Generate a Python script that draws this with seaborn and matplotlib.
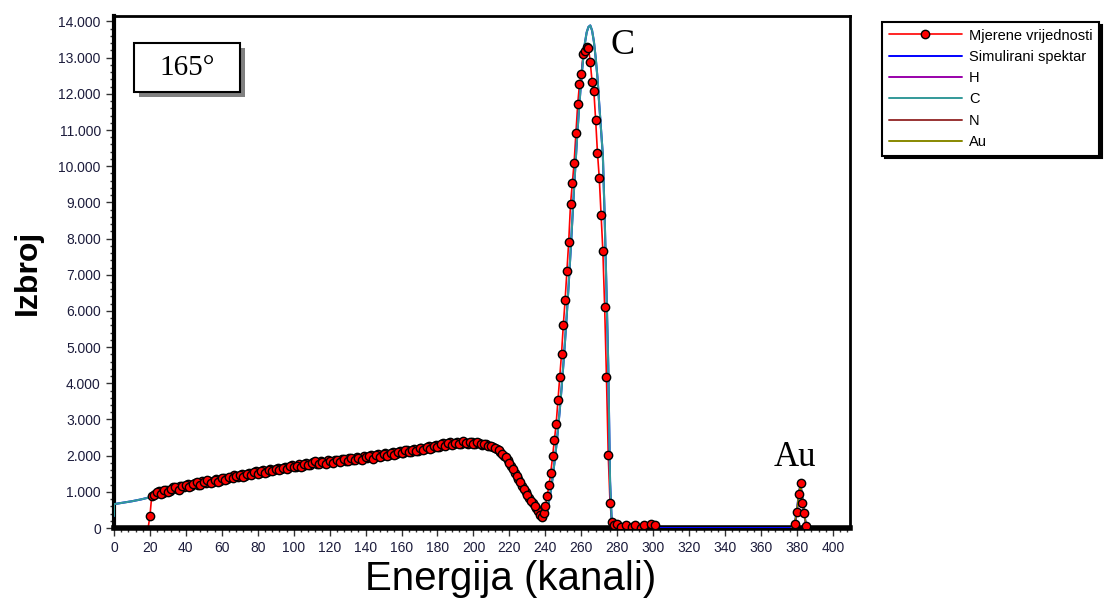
import numpy as np
import matplotlib
matplotlib.use('Agg')
import matplotlib.pyplot as plt
import seaborn as sns
from matplotlib.ticker import MultipleLocator, FuncFormatter
from matplotlib.lines import Line2D
from matplotlib.patches import Rectangle

sns.set_style('ticks')
plt.rcParams['font.family'] = ['Liberation Sans', 'DejaVu Sans']
plt.rcParams['text.color'] = 'black'
plt.rcParams['axes.labelcolor'] = 'black'

# measured spectrum (channel, counts)
meas_channels = [
    19, 20,
    21, 23, 25, 27, 29, 31, 33, 35, 37, 39,
    41, 43, 45, 47, 49, 51, 53, 55, 57, 59,
    61, 63, 65, 67, 69, 71, 73, 75, 77, 79,
    81, 83, 85, 87, 89, 91, 93, 95, 97, 99,
    101, 103, 105, 107, 109, 111, 113, 115, 117, 119,
    121, 123, 125, 127, 129, 131, 133, 135, 137, 139,
    141, 143, 145, 147, 149, 151, 153, 155, 157, 159,
    161, 163, 165, 167, 169, 171, 173, 175, 177, 179,
    181, 183, 185, 187, 189, 191, 193, 195, 197, 199,
    201, 203, 205, 207, 209, 211, 213, 215, 217, 219,
    221, 223, 225, 227, 229, 231, 233, 235,
    236, 237, 238, 239, 240, 241, 242, 243, 244, 245,
    246, 247, 248, 249, 250, 251, 252, 253, 254, 255,
    256, 257, 258, 259, 260, 261, 262, 263, 264, 265,
    266, 267, 268, 269, 270, 271, 272, 273, 274, 275,
    276, 277, 278,
    280, 282, 285, 288, 290, 293, 295, 299, 301, 303,
    377, 379, 380, 381, 382, 383, 384, 385, 386,
]
meas_counts = [
    0, 330,
    880, 950, 1020, 970, 1060, 1030, 1120, 1080, 1170, 1120,
    1210, 1170, 1250, 1200, 1290, 1240, 1310, 1280, 1350, 1300,
    1390, 1350, 1400, 1460, 1410, 1490, 1440, 1530, 1480, 1570,
    1520, 1600, 1550, 1630, 1590, 1660, 1620, 1700, 1650, 1730,
    1690, 1760, 1710, 1790, 1750, 1830, 1780, 1850, 1800, 1870,
    1820, 1890, 1840, 1910, 1860, 1930, 1880, 1960, 1910, 1990,
    1930, 2010, 1960, 2040, 1990, 2070, 2020, 2100, 2050, 2130,
    2080, 2150, 2110, 2190, 2140, 2220, 2180, 2260, 2210, 2300,
    2250, 2340, 2290, 2370, 2310, 2380, 2330, 2390, 2320, 2370,
    2310, 2350, 2290, 2310, 2260, 2240, 2190, 2100, 2000, 1880,
    1720, 1520, 1350, 1170, 990, 830, 690, 550,
    460, 370, 310, 420, 600, 880, 1180, 1520, 1980, 2420,
    2870, 3530, 4170, 4810, 5610, 6300, 7090, 7910, 8950, 9530,
    10090, 10920, 11710, 12270, 12540, 13090, 13180, 13300, 13260, 12880,
    12330, 12070, 11270, 10370, 9680, 8640, 7660, 6100, 4170, 2010,
    690, 170, 90,
    110, 30, 80, 20, 80, 10, 80, 100, 90, 0,
    0, 120, 450, 940, 1250, 700, 410, 60, 0,
]
# even channels of the continuum
meas_channels_even = [
    22, 24, 26, 28, 30, 32, 34, 36, 38, 40,
    42, 44, 46, 48, 50, 52, 54, 56, 58, 60,
    62, 64, 66, 68, 70, 72, 74, 76, 78, 80,
    82, 84, 86, 88, 90, 92, 94, 96, 98, 100,
    102, 104, 106, 108, 110, 112, 114, 116, 118, 120,
    122, 124, 126, 128, 130, 132, 134, 136, 138, 140,
    142, 144, 146, 148, 150, 152, 154, 156, 158, 160,
    162, 164, 166, 168, 170, 172, 174, 176, 178, 180,
    182, 184, 186, 188, 190, 192, 194, 196, 198, 200,
    202, 204, 206, 208, 210, 212, 214, 216, 218, 220,
    222, 224, 226, 228, 230, 232, 234,
]
meas_counts_even = [
    920, 990, 940, 1050, 1000, 1080, 1130, 1060, 1150, 1190,
    1140, 1230, 1260, 1180, 1270, 1320, 1250, 1330, 1280, 1370,
    1320, 1420, 1370, 1430, 1470, 1400, 1500, 1460, 1540, 1500,
    1580, 1530, 1610, 1570, 1640, 1600, 1670, 1630, 1710, 1680,
    1720, 1680, 1770, 1730, 1790, 1840, 1760, 1830, 1780, 1860,
    1800, 1870, 1820, 1900, 1850, 1940, 1870, 1930, 1890, 1960,
    1990, 1920, 2020, 1960, 2050, 2000, 2080, 2030, 2110, 2060,
    2160, 2100, 2170, 2120, 2200, 2170, 2240, 2190, 2270, 2230,
    2310, 2260, 2350, 2290, 2360, 2310, 2400, 2340, 2380, 2330,
    2370, 2320, 2330, 2280, 2270, 2220, 2160, 2050, 1950, 1800,
    1630, 1430, 1260, 1080, 910, 760, 620,
]

# carbon component of the simulation
c_channels = [
    0, 0, 5, 10, 15, 20, 25, 30, 40, 50, 60, 70, 80, 90, 100, 110,
    120, 130, 140, 150, 160, 170, 180, 190, 200, 205, 210, 213, 216,
    220, 224, 228, 232, 235, 237, 238, 239,
    240, 241, 242, 243, 244, 245, 246, 247, 248, 249,
    250, 251, 252, 253, 254, 255, 256, 257, 258, 259,
    260, 261, 262, 263, 264, 265, 266, 267, 268, 269,
    270, 271, 272, 273, 274, 275, 276, 277, 278, 280, 300,
]
c_counts = [
    330, 660, 700, 740, 790, 850, 950, 1030, 1160, 1260, 1350, 1440, 1520, 1600, 1670, 1740,
    1800, 1860, 1920, 1980, 2040, 2120, 2200, 2290, 2340, 2350, 2340, 2270, 2120,
    1820, 1460, 1090, 730, 470, 340, 300, 280,
    330, 480, 730, 1020, 1370, 1780, 2220, 2700, 3250, 3850,
    4500, 5200, 5950, 6750, 7600, 8500, 9400, 10250, 11050, 11750,
    12400, 12950, 13400, 13700, 13850, 13890, 13750, 13450, 13000, 12450,
    11700, 11000, 10300, 8600, 6600, 4500, 1300, 100, 20, 0, 0,
]

# gold component
au_channels = [377, 378, 379, 380, 381, 382, 383, 384, 385, 386]
au_counts = [0, 50, 200, 500, 950, 1200, 850, 420, 100, 0]

# H and N components (flat at zero in this spectrum)
h_channels = [0, 409]
h_counts = [0, 0]
n_channels = [0, 409]
n_counts = [0, 0]

# total simulated spectrum = C + Au (H, N are zero)
sim_channels = c_channels + au_channels
sim_counts = c_counts + au_counts

legend_labels = ['Mjerene vrijednosti', 'Simulirani spektar', 'H', 'C', 'N', 'Au']
col_meas = '#ff0000'
col_sim = '#0000ff'
col_h = '#9900aa'
col_c = '#339999'
col_n = '#993333'
col_au = '#888800'

all_x = np.array(meas_channels + meas_channels_even)
all_y = np.array(meas_counts + meas_counts_even)

fig = plt.figure(figsize=(11.13, 6.10), dpi=100)
ax = fig.add_axes([0.1024, 0.1344, 0.6613, 0.8393])

sns.lineplot(x=h_channels, y=h_counts, color=col_h, lw=1.2, estimator=None, sort=False, ax=ax)
sns.lineplot(x=n_channels, y=n_counts, color=col_n, lw=1.2, estimator=None, sort=False, ax=ax)
sns.lineplot(x=all_x, y=all_y, color=col_meas, lw=1.2, estimator=None, sort=True, ax=ax)
sns.lineplot(x=sim_channels, y=sim_counts, color=col_sim, lw=1.5, estimator=None, sort=False,
             zorder=3, ax=ax)
sns.lineplot(x=c_channels, y=c_counts, color=col_c, lw=1.5, estimator=None, sort=False,
             zorder=3, ax=ax)
sns.lineplot(x=au_channels, y=au_counts, color=col_au, lw=1.2, estimator=None, sort=False,
             zorder=3, ax=ax)

keep = all_y > 0
sns.scatterplot(x=all_x[keep], y=all_y[keep], color=col_meas, edgecolor='black', linewidth=1.0,
                s=36, marker='o', zorder=5, ax=ax)

ax.set_xlim(0, 409.5)
ax.set_ylim(0, 14150)
ax.xaxis.set_major_locator(MultipleLocator(20))
ax.xaxis.set_minor_locator(MultipleLocator(4))
ax.yaxis.set_major_locator(MultipleLocator(1000))
ax.yaxis.set_minor_locator(MultipleLocator(200))
ax.yaxis.set_major_formatter(FuncFormatter(lambda v, p: f"{v:,.0f}".replace(",", ".")))
ax.tick_params(which='major', direction='out', length=6, width=1, labelsize=10,
               labelcolor='#1c1c3c', color='#333333')
ax.tick_params(which='minor', direction='out', length=3, width=1, color='#333333')

for side, lw in [('left', 3), ('bottom', 4), ('top', 2), ('right', 2)]:
    ax.spines[side].set_visible(True)
    ax.spines[side].set_color('black')
    ax.spines[side].set_linewidth(lw)

ax.set_xlabel('Energija (kanali)', fontsize=29, color='black')
ax.set_ylabel('Izbroj', fontsize=23, fontweight='bold', color='black')
ax.xaxis.set_label_coords(0.539, -0.062)
ax.yaxis.set_label_coords(-0.0965, 0.5)

# angle box with shadow
ax.add_patch(Rectangle((0.0340, 0.8418), 0.1440, 0.0957, transform=ax.transAxes,
                       facecolor='#808080', edgecolor='none', zorder=6))
ax.add_patch(Rectangle((0.0272, 0.8516), 0.1440, 0.0957, transform=ax.transAxes,
                       facecolor='white', edgecolor='black', lw=1.5, zorder=7))
ax.text(0.0992, 0.899, '165°', transform=ax.transAxes, ha='center', va='center',
        fontsize=21, family='Liberation Serif', color='black', zorder=8)

ax.text(283, 13340, 'C', ha='center', va='center', fontsize=26, family='Liberation Serif',
        color='black')
ax.text(379, 1960, 'Au', ha='center', va='center', fontsize=25, family='Liberation Serif',
        color='black')

handles = [
    Line2D([], [], color=col_meas, lw=1.2, marker='o', ms=6, mfc=col_meas, mec='black'),
    Line2D([], [], color=col_sim, lw=1.4),
    Line2D([], [], color=col_h, lw=1.4),
    Line2D([], [], color=col_c, lw=1.4),
    Line2D([], [], color=col_n, lw=1.4),
    Line2D([], [], color=col_au, lw=1.4),
]
leg = fig.legend(handles, legend_labels, loc='upper left', bbox_to_anchor=(0.7925, 0.964),
                 frameon=True, fancybox=False, shadow={'color': 'black', 'alpha': 1},
                 edgecolor='black', framealpha=1, fontsize=10.5, handlelength=5.0,
                 labelspacing=0.5, borderpad=0.45, handletextpad=0.5, borderaxespad=0)
leg.get_frame().set_linewidth(1.5)
for t in leg.get_texts():
    t.set_color('black')

fig.savefig('out.png', dpi=100, facecolor='white')
